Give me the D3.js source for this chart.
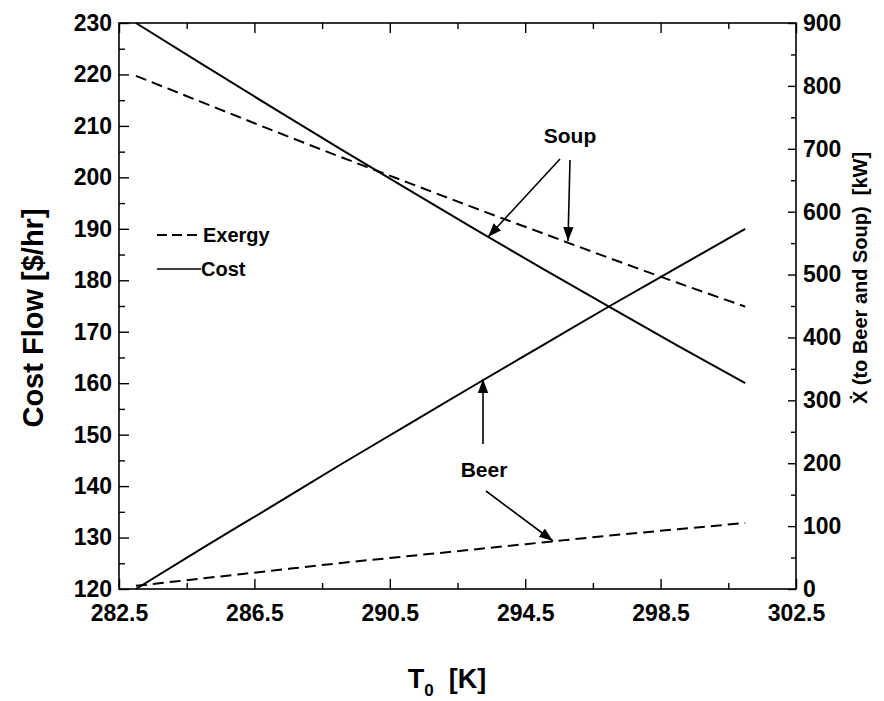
<!DOCTYPE html>
<html><head><meta charset="utf-8">
<script src="https://cdn.jsdelivr.net/npm/d3@7"></script>
<style>
html,body{margin:0;padding:0;background:#fff;}
svg text{font-family:"Liberation Sans",Arial,Helvetica,sans-serif;fill:#000;}
</style></head>
<body>
<svg id="c" width="884" height="701"></svg>
<script>
// ---- data ----
const T = [283, 285, 287, 289, 291, 293, 295, 297, 299, 301];
const costSoup = [230, 221.8, 213.7, 205.7, 197.8, 190.0, 182.3, 174.8, 167.3, 160];
const costBeer = [120, 128.1, 136.0, 144.0, 151.8, 159.6, 167.3, 175.0, 182.5, 190];
const exergySoup = [816, 773, 730, 688, 647, 606, 566, 526, 487, 449];
const exergyBeer = [5, 17, 29, 41, 52, 63, 74, 85, 95, 105];
const xTicks = [282.5, 286.5, 290.5, 294.5, 298.5, 302.5];
const xMinor = [284.5, 288.5, 292.5, 296.5, 300.5];
const yLeftTicks = [120, 130, 140, 150, 160, 170, 180, 190, 200, 210, 220, 230];
const yRightTicks = [0, 100, 200, 300, 400, 500, 600, 700, 800, 900];

const svg = d3.select("#c");
const L = 119, R = 796, Tp = 23, B = 589;
const x = d3.scaleLinear().domain([282.5, 302.5]).range([L, R]);
const yL = d3.scaleLinear().domain([120, 230]).range([B, Tp]);
const yR = d3.scaleLinear().domain([0, 900]).range([B, Tp]);

// markers
svg.append("defs").append("marker")
  .attr("id","arr").attr("viewBox","0 0 10 10").attr("refX",10).attr("refY",5)
  .attr("markerWidth",14).attr("markerHeight",14).attr("markerUnits","userSpaceOnUse")
  .attr("orient","auto")
  .append("path").attr("d","M0,1.3 L10,5 L0,8.7 Z").attr("fill","#000");

// frame
svg.append("rect").attr("x",L).attr("y",Tp).attr("width",R-L).attr("height",B-Tp)
  .attr("fill","none").attr("stroke","#000").attr("stroke-width",1.6);

const fs = 23;
// bottom axis
svg.append("g").attr("transform",`translate(0,${B})`)
  .call(d3.axisBottom(x).tickValues(xTicks).tickSize(-10).tickPadding(16).tickFormat(d3.format(".1f")));
svg.append("g").attr("transform",`translate(0,${B})`)
  .call(d3.axisBottom(x).tickValues(xMinor).tickSize(-6).tickFormat(""));
// top axis ticks
svg.append("g").attr("transform",`translate(0,${Tp})`)
  .call(d3.axisTop(x).tickValues(xTicks).tickSize(-10).tickFormat(""));
svg.append("g").attr("transform",`translate(0,${Tp})`)
  .call(d3.axisTop(x).tickValues(xMinor).tickSize(-6).tickFormat(""));
// left axis
svg.append("g").attr("transform",`translate(${L},0)`)
  .call(d3.axisLeft(yL).tickValues(yLeftTicks).tickSize(-10).tickPadding(7));
svg.append("g").attr("transform",`translate(${L},0)`)
  .call(d3.axisLeft(yL).tickValues(yLeftTicks.slice(0,-1).map(v=>v+5)).tickSize(-6).tickFormat(""));
// right axis
svg.append("g").attr("transform",`translate(${R},0)`)
  .call(d3.axisRight(yR).tickValues(yRightTicks).tickSize(-8).tickPadding(7));
svg.append("g").attr("transform",`translate(${R},0)`)
  .call(d3.axisRight(yR).tickValues(yRightTicks.slice(0,-1).map(v=>v+50)).tickSize(-5).tickFormat(""));

svg.selectAll(".domain").remove();
svg.selectAll(".tick line").attr("stroke","#000").attr("stroke-width",1.4);
svg.selectAll(".tick text").attr("font-size",fs).attr("font-weight","bold")
  .attr("font-family","'Liberation Sans',Arial,sans-serif").attr("fill","#000");

// lines
const lineL = d3.line().x((d,i)=>x(T[i])).y(d=>yL(d)).curve(d3.curveMonotoneX);
const lineR = d3.line().x((d,i)=>x(T[i])).y(d=>yR(d)).curve(d3.curveMonotoneX);
svg.append("path").datum(costSoup).attr("d",lineL).attr("fill","none").attr("stroke","#000").attr("stroke-width",2);
svg.append("path").datum(costBeer).attr("d",lineL).attr("fill","none").attr("stroke","#000").attr("stroke-width",2);
svg.append("path").datum(exergySoup).attr("d",lineR).attr("fill","none").attr("stroke","#000").attr("stroke-width",2).attr("stroke-dasharray","11,6");
svg.append("path").datum(exergyBeer).attr("d",lineR).attr("fill","none").attr("stroke","#000").attr("stroke-width",2).attr("stroke-dasharray","11,6");

// legend
svg.append("line").attr("x1",157).attr("x2",198).attr("y1",235).attr("y2",235)
  .attr("stroke","#000").attr("stroke-width",2).attr("stroke-dasharray","10,5");
svg.append("text").attr("x",203).attr("y",242).attr("font-size",20).attr("font-weight","bold").text("Exergy");
svg.append("line").attr("x1",157).attr("x2",201).attr("y1",269).attr("y2",269)
  .attr("stroke","#000").attr("stroke-width",1.3);
svg.append("text").attr("x",201).attr("y",276).attr("font-size",20).attr("font-weight","bold").text("Cost");

// annotations
function arrow(x1,y1,x2,y2){
  svg.append("line").attr("x1",x1).attr("y1",y1).attr("x2",x2).attr("y2",y2)
    .attr("stroke","#000").attr("stroke-width",1.6).attr("marker-end","url(#arr)");
}
svg.append("text").attr("x",570).attr("y",143).attr("text-anchor","middle").attr("font-size",21).attr("font-weight","bold").text("Soup");
arrow(560,159,488,237);
arrow(570,160,568,241);
svg.append("text").attr("x",484).attr("y",477).attr("text-anchor","middle").attr("font-size",21).attr("font-weight","bold").text("Beer");
arrow(483,444,483,379);
arrow(486,491,553,541);

// axis titles
svg.append("text").attr("transform","translate(43,318) rotate(-90)").attr("text-anchor","middle")
  .attr("font-size",29).attr("font-weight","bold").text("Cost Flow [$/hr]");
const xt = svg.append("text").attr("x",447).attr("y",688).attr("text-anchor","middle")
  .attr("font-size",27).attr("font-weight","bold");
xt.append("tspan").text("T");
xt.append("tspan").attr("font-size",17).attr("dy",8).text("0");
xt.append("tspan").attr("dy",-8).text("\u00a0 [K]");
svg.append("text").attr("transform","translate(867,278) rotate(-90)").attr("text-anchor","middle")
  .attr("font-size",20).attr("font-weight","bold").text("X\u0307 (to Beer and Soup)\u00a0 [kW]");
</script>
</body></html>
